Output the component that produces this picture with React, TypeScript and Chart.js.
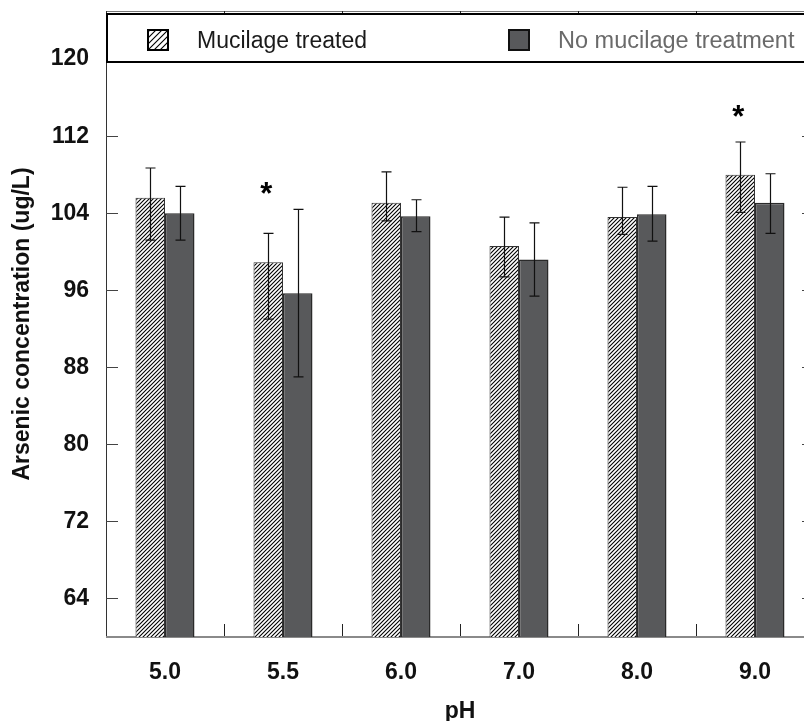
import React, { useEffect, useRef } from 'react';
import { Chart, registerables } from 'chart.js';

Chart.register(...registerables);

const categories = ['5.0', '5.5', '6.0', '7.0', '8.0', '9.0'];
const seriesLabels = ['Mucilage treated', 'No mucilage treatment'];
const treatedMeans = [105.6, 98.9, 105.1, 100.6, 103.6, 108.0];
const treatedErrHigh = [108.7, 101.9, 108.3, 103.6, 106.7, 111.4];
const treatedErrLow = [101.2, 93.0, 103.2, 97.4, 101.8, 104.1];
const untreatedMeans = [104.0, 95.7, 103.7, 99.2, 103.9, 105.1];
const untreatedErrHigh = [106.8, 104.4, 105.4, 103.0, 106.8, 108.1];
const untreatedErrLow = [101.2, 87.0, 102.1, 95.4, 101.1, 101.9];
const yTicks = [64, 72, 80, 88, 96, 104, 112, 120];
const yMin = 60;
const yMax = 125;
const sigCategories = ['5.5', '9.0'];
const sigLevels = [106.6, 114.6];
const yTitle = 'Arsenic concentration (ug/L)';
const xTitle = 'pH';

const FONT = '"Liberation Sans", Arial, Helvetica, sans-serif';
const DARK = '#58595b';

function makeHatch(size: number, bg = '#ffffff') {
  const c = document.createElement('canvas');
  c.width = size;
  c.height = size;
  const g = c.getContext('2d')!;
  g.fillStyle = bg;
  g.fillRect(0, 0, size, size);
  g.strokeStyle = '#000';
  g.lineWidth = 1.1;
  g.beginPath();
  g.moveTo(-1, size + 1);
  g.lineTo(size + 1, -1);
  g.moveTo(-1, 1);
  g.lineTo(1, -1);
  g.moveTo(size - 1, size + 1);
  g.lineTo(size + 1, size - 1);
  g.stroke();
  return g.createPattern(c, 'repeat')!;
}

export default function App() {
  const ref = useRef<HTMLCanvasElement>(null);

  useEffect(() => {
    const canvas = ref.current!;
    const ctx0 = canvas.getContext('2d')!;
    const hatch = makeHatch(4);
    const hatchLegend = makeHatch(6);

    const errLow = [treatedErrLow, untreatedErrLow];
    const errHigh = [treatedErrHigh, untreatedErrHigh];

    const framePlugin = {
      id: 'frame',
      beforeDatasetsDraw(chart: any) {
        const { ctx, chartArea } = chart;
        const { left, right, top, bottom } = chartArea;
        const ys = chart.scales.y;
        const xs = chart.scales.x;
        ctx.save();
        ctx.strokeStyle = '#777';
        ctx.lineWidth = 1;
        ctx.beginPath();
        ctx.moveTo(left, top + 0.5);
        ctx.lineTo(right, top + 0.5);
        ctx.stroke();
        ctx.strokeStyle = '#333';
        ctx.beginPath();
        ctx.moveTo(left + 0.5, top);
        ctx.lineTo(left + 0.5, bottom);
        ctx.moveTo(right - 0.5, top);
        ctx.lineTo(right - 0.5, bottom);
        ctx.stroke();
        ctx.strokeStyle = '#444';
        ctx.beginPath();
        yTicks.forEach((v) => {
          const py = Math.round(ys.getPixelForValue(v)) + 0.5;
          ctx.moveTo(left, py);
          ctx.lineTo(left + 12, py);
          ctx.moveTo(right, py);
          ctx.lineTo(right - 12, py);
        });
        ctx.stroke();
        ctx.strokeStyle = '#222';
        ctx.beginPath();
        for (let i = 0; i < categories.length - 1; i++) {
          const px = Math.round((xs.getPixelForValue(i) + xs.getPixelForValue(i + 1)) / 2) + 0.5;
          ctx.moveTo(px, bottom);
          ctx.lineTo(px, bottom - 13);
          ctx.moveTo(px, top);
          ctx.lineTo(px, top + 13);
        }
        ctx.stroke();
        ctx.strokeStyle = '#8a8a8a';
        ctx.lineWidth = 2;
        ctx.beginPath();
        ctx.moveTo(left, bottom);
        ctx.lineTo(right, bottom);
        ctx.stroke();
        ctx.restore();
      },
      afterDatasetsDraw(chart: any) {
        const { ctx, chartArea } = chart;
        const ys = chart.scales.y;
        ctx.save();
        ctx.strokeStyle = '#111';
        ctx.lineWidth = 1.2;
        [0, 1].forEach((d) => {
          const meta = chart.getDatasetMeta(d);
          meta.data.forEach((bar: any, i: number) => {
            const x = Math.round(bar.x) + 0.5;
            const yH = ys.getPixelForValue(errHigh[d][i]);
            const yL = ys.getPixelForValue(errLow[d][i]);
            ctx.beginPath();
            ctx.moveTo(x, yH);
            ctx.lineTo(x, yL);
            ctx.moveTo(x - 5, yH);
            ctx.lineTo(x + 5, yH);
            ctx.moveTo(x - 5, yL);
            ctx.lineTo(x + 5, yL);
            ctx.stroke();
          });
        });
        ctx.fillStyle = '#000';
        ctx.font = `bold 31px ${FONT}`;
        ctx.textAlign = 'center';
        ctx.textBaseline = 'alphabetic';
        const m = ctx.measureText('*');
        const asc = m.actualBoundingBoxAscent;
        const desc = m.actualBoundingBoxDescent;
        const meta0 = chart.getDatasetMeta(0);
        sigCategories.forEach((c, k) => {
          const idx = categories.indexOf(c);
          const bar = meta0.data[idx];
          const cy = ys.getPixelForValue(sigLevels[k]);
          ctx.fillText('*', bar.x - 2, cy + (asc - desc) / 2);
        });
        const left = chartArea.left;
        ctx.fillStyle = '#fff';
        ctx.fillRect(left, 14, chart.width - left + 10, 48);
        ctx.strokeStyle = '#000';
        ctx.lineWidth = 2;
        ctx.strokeRect(left + 1, 14, chart.width - left + 10, 48);
        ctx.fillStyle = hatchLegend;
        ctx.fillRect(left + 41, 29, 22, 22);
        ctx.lineWidth = 2;
        ctx.strokeRect(left + 42, 30, 20, 20);
        ctx.font = `23px ${FONT}`;
        ctx.textAlign = 'left';
        ctx.textBaseline = 'alphabetic';
        ctx.fillStyle = '#1a1a1a';
        ctx.fillText(seriesLabels[0], left + 91, 48);
        ctx.fillStyle = DARK;
        ctx.fillRect(left + 402, 29, 22, 22);
        ctx.strokeStyle = '#111';
        ctx.strokeRect(left + 403, 30, 20, 20);
        ctx.fillStyle = '#6a6a6a';
        ctx.font = `23.5px ${FONT}`;
        ctx.fillText(seriesLabels[1], left + 452, 48);
        ctx.restore();
      },
    };

    const tickFont = { family: FONT, size: 23, weight: 'bold' as const };

    const chart = new Chart(ctx0, {
      type: 'bar',
      data: {
        labels: categories,
        datasets: [
          {
            label: seriesLabels[0],
            data: treatedMeans,
            backgroundColor: hatch as any,
            borderColor: '#333',
            borderWidth: 1,
            borderSkipped: 'bottom',
          },
          {
            label: seriesLabels[1],
            data: untreatedMeans,
            backgroundColor: DARK,
            borderColor: '#2a2a2a',
            borderWidth: 1.5,
            borderSkipped: 'bottom',
          },
        ],
      },
      options: {
        responsive: false,
        animation: false,
        devicePixelRatio: 1,
        layout: { padding: { top: 11, right: 16, left: 0, bottom: 0 } },
        datasets: {
          bar: { categoryPercentage: 0.5, barPercentage: 1 },
        },
        plugins: {
          legend: { display: false },
          tooltip: { enabled: false },
        },
        scales: {
          x: {
            type: 'category',
            offset: true,
            grid: { display: false },
            border: { display: false },
            ticks: { font: tickFont, color: '#111', padding: 14, maxRotation: 0, autoSkip: false },
            title: {
              display: true,
              text: xTitle,
              font: tickFont,
              color: '#111',
              padding: { top: 0, bottom: 0 },
            },
            afterFit: (s: any) => {
              s.height = 88;
              s.paddingLeft = 0;
              s.paddingRight = 0;
            },
          },
          y: {
            type: 'linear',
            min: yMin,
            max: yMax,
            afterBuildTicks: (s: any) => {
              s.ticks = yTicks.map((v) => ({ value: v }));
            },
            grid: { display: false },
            border: { display: false },
            ticks: { font: tickFont, color: '#111', padding: 9 },
            title: {
              display: true,
              text: yTitle,
              font: tickFont,
              color: '#111',
              padding: { top: 9, bottom: 0 },
            },
            afterFit: (s: any) => {
              s.width = 106;
              s.paddingTop = 0;
              s.paddingBottom = 0;
            },
          },
        },
      },
      plugins: [framePlugin],
    });

    return () => chart.destroy();
  }, []);

  return (
    <div
      style={{
        position: 'fixed',
        left: 0,
        top: 0,
        width: 804,
        height: 721,
        overflow: 'hidden',
        background: '#fff',
      }}
    >
      <canvas ref={ref} width={830} height={725} style={{ display: 'block', width: 830, height: 725 }} />
    </div>
  );
}
